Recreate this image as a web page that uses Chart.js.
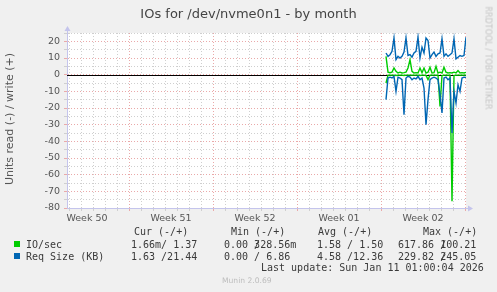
<!DOCTYPE html>
<html><head><meta charset="utf-8">
<script src="https://cdn.jsdelivr.net/npm/chart.js@4/dist/chart.umd.min.js"></script>
<style>
html,body{margin:0;padding:0;background:#f0f0f0;}
#wrap{position:relative;width:497px;height:292px;overflow:hidden;background:#f0f0f0;font-family:"DejaVu Sans",sans-serif;}
canvas{position:absolute;left:0;top:0;}
.t{position:absolute;white-space:pre;line-height:1;}
.mono{font-family:"DejaVu Sans Mono",monospace;font-size:10px;color:#3a3a3a;}
.sq{position:absolute;width:6px;height:6px;}
</style></head><body>
<div id="wrap">
<canvas id="c" width="497" height="292"></canvas>
<div class="t" style="left:0;width:497px;text-align:center;top:7px;font-size:13px;color:#444;">IOs for /dev/nvme0n1 - by month</div>
<div class="t" style="left:-90px;width:200px;top:113px;height:12px;line-height:12px;text-align:center;font-size:11px;color:#555;transform:rotate(-90deg);">Units read (-) / write (+)</div>
<div class="t" style="left:438px;width:100px;top:52px;height:9px;line-height:9px;text-align:center;font-size:8px;color:#c4c4c4;transform:rotate(90deg);">RRDTOOL / TOBI OETIKER</div>

<div class="t mono" style="left:134px;top:227px;">Cur (-/+)</div>
<div class="t mono" style="left:231px;top:227px;">Min (-/+)</div>
<div class="t mono" style="left:318px;top:227px;">Avg (-/+)</div>
<div class="t mono" style="left:423px;top:227px;">Max (-/+)</div>

<div class="sq" style="left:14px;top:241px;background:#00CC00;"></div>
<div class="t mono" style="left:26px;top:240px;">IO/sec</div>
<div class="t mono" style="left:131px;top:240px;">1.66m/ 1.37</div>
<div class="t mono" style="left:224px;top:240px;">0.00 <span style="display:inline-block;width:0">/</span>328.56m</div>
<div class="t mono" style="left:317px;top:240px;">1.58 / 1.50</div>
<div class="t mono" style="left:398px;top:240px;">617.86 <span style="display:inline-block;width:0">/</span>100.21</div>

<div class="sq" style="left:14px;top:253px;background:#0066B3;"></div>
<div class="t mono" style="left:26px;top:252px;">Req Size (KB)</div>
<div class="t mono" style="left:131px;top:252px;">1.63 /21.44</div>
<div class="t mono" style="left:224px;top:252px;">0.00 / 6.86</div>
<div class="t mono" style="left:317px;top:252px;">4.58 /12.36</div>
<div class="t mono" style="left:398px;top:252px;">229.82 <span style="display:inline-block;width:0">/</span>245.05</div>

<div class="t mono" style="left:261px;top:263px;">Last update: Sun Jan 11 01:00:04 2026</div>
<div class="t" style="left:222px;top:277px;font-size:7.6px;color:#bdbdbd;">Munin 2.0.69</div>
</div>
<script>
// hours since Mon Dec 08 2025 00:00 (start of Week 50)
const sampleHours = [682,686,690,694,698,702,706,710,714,718,722,726,730,734,738,742,746,750,754,758,
                     762,766,770,774,778,782,786,790,794,798,802,806,810,814,818,822,826,830,834,838,842];
// IO/sec
const ioWrite = [11,1.5,1.2,1.5,4,2,1,1.5,1,1.2,1.5,4,9,2,1,1.2,1,4,1.2,4,
                 1,1.5,4.5,1,1.2,5,1,1.5,1,4.5,1.5,1,1.2,1,1.5,1,2.5,1,1.2,1,1.4];
const ioRead  = [5,0.3,0.3,0.3,0.3,0.5,0.3,0.3,0.3,0.5,0.3,0.3,0.3,0.3,0.3,0.3,0.3,0.5,0.3,0.3,
                 0.5,3,0.3,0.3,0.3,0.3,0.3,19,0.5,0.3,0.3,0.3,0.3,76,0.5,0.3,0.3,0.3,0.3,0.3,0.3];
// Req Size (KB)
const reqWrite = [13,11,12,14,22,9,11,10,11,13.5,22,11.5,12,10.5,13,14,22.5,10,16.5,13,
                  22,20.5,10,12,13.5,11,12.5,13,21.5,11,12.5,11,12,13,21.5,9.5,10.5,11.5,11,11.5,22.5];
const reqRead  = [15,2,1.5,2,1,10,1.5,2,3,24,2,1,1.5,3,2,2.5,1,3,2,8,
                  30,15,3,2,1.5,2,3,12,23,2,1.5,3,2,35,10,17,6,10,2,1.5,1.6];
// axis ticks
const weekLabels = ['Week 50','Week 51','Week 52','Week 01','Week 02'];
const weekLabelDays = [3.5,10.5,17.5,24.5,31.5];
const yTickLabels = [20,10,0,-10,-20,-30,-40,-50,-60,-70,-80];

const X_MIN = 1.833, X_MAX = 35.083;
const Y_MIN = -80, Y_MAX = 25;
const RED = '#eaa9a9', GRAY = '#cfcfcf', AXIS = '#c4c4ec';

const pts = (vals, sign) => sampleHours.map((h,i)=>({x:h/24, y:sign*vals[i]}));

const plotBg = {
  id:'plotBg',
  beforeDraw(chart){
    const {ctx, chartArea:a} = chart;
    ctx.save(); ctx.fillStyle='#ffffff';
    ctx.fillRect(a.left, a.top, a.right-a.left, a.bottom-a.top); ctx.restore();
  }
};
const zeroLine = {
  id:'zeroLine',
  beforeDatasetsDraw(chart){
    const {ctx, chartArea:a, scales:{y}} = chart;
    const py = Math.round(y.getPixelForValue(0)) + 0.5;
    ctx.save(); ctx.strokeStyle='#000'; ctx.lineWidth=1;
    ctx.beginPath(); ctx.moveTo(a.left, py); ctx.lineTo(a.right, py); ctx.stroke(); ctx.restore();
  }
};
const arrows = {
  id:'arrows',
  afterDraw(chart){
    const {ctx, chartArea:a} = chart;
    ctx.save(); ctx.strokeStyle=AXIS; ctx.fillStyle=AXIS; ctx.lineWidth=1;
    const lx = Math.round(a.left)+0.5, by = Math.round(a.bottom)+0.5;
    ctx.beginPath(); ctx.moveTo(lx, a.top); ctx.lineTo(lx, a.top-4); ctx.stroke();
    ctx.beginPath(); ctx.moveTo(lx-3, a.top-2); ctx.lineTo(lx+3, a.top-2); ctx.lineTo(lx, a.top-7); ctx.closePath(); ctx.fill();
    ctx.beginPath(); ctx.moveTo(a.right, by); ctx.lineTo(a.right+4, by); ctx.stroke();
    ctx.beginPath(); ctx.moveTo(a.right+2, by-3); ctx.lineTo(a.right+2, by+3); ctx.lineTo(a.right+7, by); ctx.closePath(); ctx.fill();
    ctx.restore();
  }
};

new Chart(document.getElementById('c'), {
  type:'line',
  data:{datasets:[
    {label:'Req Size read', data:pts(reqRead,-1), borderColor:'#0066B3'},
    {label:'Req Size write', data:pts(reqWrite,1), borderColor:'#0066B3'},
    {label:'IO/sec read', data:pts(ioRead,-1), borderColor:'#00CC00'},
    {label:'IO/sec write', data:pts(ioWrite,1), borderColor:'#00CC00'}
  ]},
  options:{
    animation:false, responsive:false, devicePixelRatio:1,
    layout:{padding:{top:33,right:31,left:0,bottom:0}},
    plugins:{legend:{display:false}, tooltip:{enabled:false}},
    elements:{point:{radius:0}, line:{tension:0, borderWidth:1.4, fill:false}},
    scales:{
      x:{
        type:'linear', min:X_MIN, max:X_MAX, position:'bottom',
        afterFit(s){ s.height = 84; },
        afterBuildTicks(s){
          const t=[];
          for(let d=2; d<=35; d++) t.push({value:d});
          weekLabelDays.forEach(v=>t.push({value:v}));
          t.sort((a,b)=>a.value-b.value);
          s.ticks=t;
        },
        ticks:{autoSkip:false, maxRotation:0, padding:2, color:'#555',
          font:{family:'DejaVu Sans', size:9.5},
          callback(v){ const k=weekLabelDays.indexOf(v); return k>=0?weekLabels[k]:''; }},
        grid:{
          color(c){ const v=c.tick&&c.tick.value; if(!Number.isInteger(v)) return 'rgba(0,0,0,0)'; return v%7===0?RED:GRAY; },
          tickColor(c){ const v=c.tick&&c.tick.value; if(!Number.isInteger(v)) return 'rgba(0,0,0,0)'; return v%7===0?RED:GRAY; },
          tickLength:3, lineWidth:1
        },
        border:{color:AXIS, width:1, dash:[1,2]}
      },
      y:{
        min:Y_MIN, max:Y_MAX,
        afterFit(s){ s.width = 67; },
        afterBuildTicks(s){
          const t=[]; for(let v=Y_MIN; v<=Y_MAX; v+=5) t.push({value:v}); s.ticks=t;
        },
        ticks:{autoSkip:false, padding:4, color:'#555',
          font:{family:'DejaVu Sans', size:9.5},
          callback(v){ return yTickLabels.includes(v)?String(v):''; }},
        grid:{
          color(c){ const v=c.tick&&c.tick.value; return v%10===0?RED:GRAY; },
          tickColor(c){ const v=c.tick&&c.tick.value; return v%10===0?RED:GRAY; },
          tickLength:3, lineWidth:1
        },
        border:{color:AXIS, width:1, dash:[1,2]}
      }
    }
  },
  plugins:[plotBg, zeroLine, arrows]
});
</script>
</body></html>
